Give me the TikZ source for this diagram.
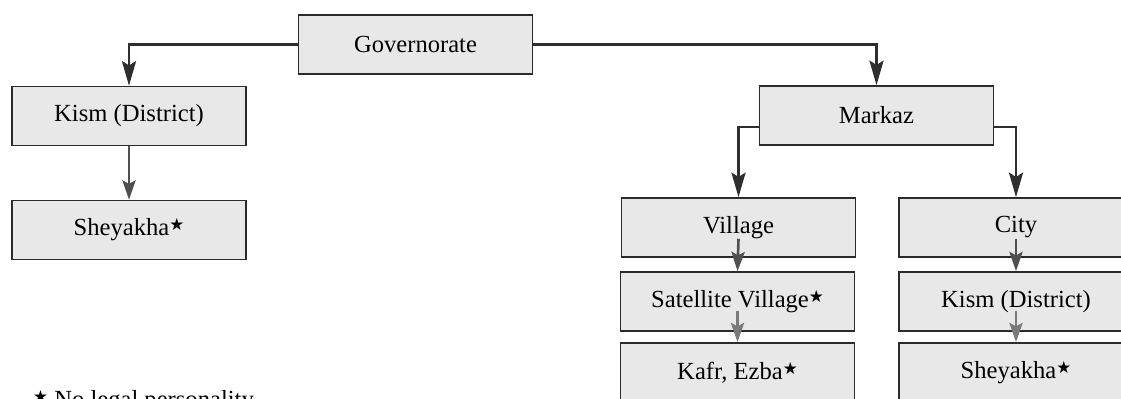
\documentclass[tikz,border=0pt]{standalone}
\usepackage{fontspec}
\setmainfont{Liberation Serif}
\newfontfamily\starfont{DejaVu Sans}
\usetikzlibrary{arrows.meta,calc}
\definecolor{boxfill}{HTML}{E8E8E8}
\definecolor{boxline}{HTML}{2B2B2B}
\definecolor{linkdark}{HTML}{2E2E2E}
\definecolor{linkmid}{HTML}{4F4F4F}
\definecolor{linklight}{HTML}{7A7A7A}
\newcommand{\nolegal}{\raisebox{0.45ex}{\starfont\fontsize{9.5}{10}\selectfont ★}}

\begin{document}
\begin{tikzpicture}[
  unit/.style={draw=boxline, line width=0.9pt, fill=boxfill,
    minimum width=4.68cm, minimum height=1.18cm, inner sep=0pt,
    font=\fontsize{14}{16}\selectfont},
  link/.style={draw=linkdark, line width=1.5pt,
    -{Stealth[length=14pt,width=8pt,inset=2.5pt]}},
  sublink/.style={line width=1.5pt,
    -{Stealth[length=11pt,width=7.5pt,inset=2pt]}}
]
  % Page frame
  \useasboundingbox (0,0) rectangle (22.42,7.98);
  \clip (0,0) rectangle (22.42,7.98);
  % Units
  \node[unit] (gov) at (8.31,7.09) {Governorate};
  \node[unit] (kism) at (2.58,5.66) {Kism (District)};
  \node[unit] (shey) at (2.58,3.38) {Sheyakha\nolegal};
  \node[unit] (markaz) at (17.53,5.67) {Markaz};
  \node[unit] (village) at (14.77,3.43) {Village};
  \node[unit] (satellite) at (14.75,1.95) {Satellite Village\nolegal};
  \node[unit] (kafr) at (14.75,0.53) {Kafr, Ezba\nolegal};
  \node[unit] (city) at (20.32,3.43) {City};
  \node[unit] (citykism) at (20.32,1.95) {Kism (District)};
  \node[unit] (cityshey) at (20.32,0.53) {Sheyakha\nolegal};
  % Links
  \draw[link] (gov.west) -| (kism.north);
  \draw[link] (gov.east) -| (markaz.north);
  \draw[link] ($(markaz.west)+(0,-0.23)$) -| (village.north);
  \draw[link] ($(markaz.east)+(0,-0.23)$) -| (city.north);
  \draw[sublink, draw=linkmid] (kism.south) -- (shey.north);
  \draw[sublink, draw=linkmid] ($(village.south)+(0,0.38)$) -- (satellite.north);
  \draw[sublink, draw=linklight] ($(satellite.south)+(0,0.42)$) -- (kafr.north);
  \draw[sublink, draw=linkmid] ($(city.south)+(0,0.38)$) -- (citykism.north);
  \draw[sublink, draw=linklight] ($(citykism.south)+(0,0.42)$) -- (cityshey.north);
  % Footnote
  \node[anchor=base west, font=\fontsize{14}{16}\selectfont] (note) at (0.54,-0.18)
    {\nolegal\ No legal personality};
\end{tikzpicture}
\end{document}
